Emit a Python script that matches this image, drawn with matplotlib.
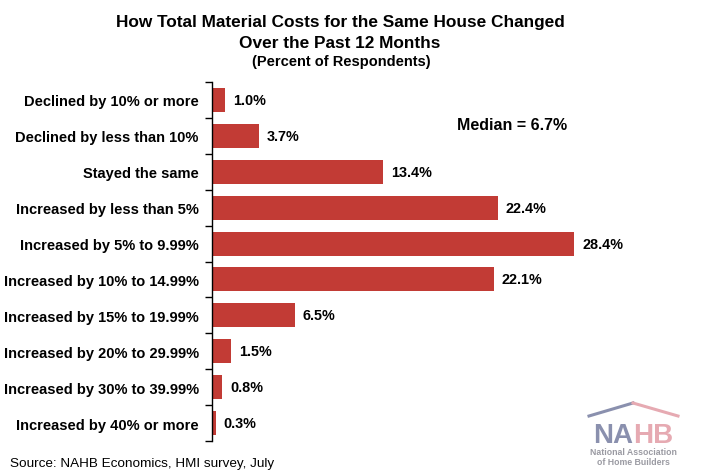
import matplotlib
matplotlib.use("Agg")
import matplotlib.pyplot as plt
from matplotlib.lines import Line2D
import numpy as np

categories = [
    "Declined by 10% or more",
    "Declined by less than 10%",
    "Stayed the same",
    "Increased by less than 5%",
    "Increased by 5% to 9.99%",
    "Increased by 10% to 14.99%",
    "Increased by 15% to 19.99%",
    "Increased by 20% to 29.99%",
    "Increased by 30% to 39.99%",
    "Increased by 40% or more",
]
values = [1.0, 3.7, 13.4, 22.4, 28.4, 22.1, 6.5, 1.5, 0.8, 0.3]
value_labels = ["1.0%", "3.7%", "13.4%", "22.4%", "28.4%", "22.1%", "6.5%", "1.5%", "0.8%", "0.3%"]
title_lines = ["How Total Material Costs for the Same House Changed", "Over the Past 12 Months"]
subtitle = "(Percent of Respondents)"
median_text = "Median = 6.7%"
source_text = "Source: NAHB Economics, HMI survey, July"

plt.rcParams['font.family'] = ['Liberation Sans', 'DejaVu Sans']

W, H = 711, 477
fig = plt.figure(figsize=(W / 100, H / 100), dpi=100)
fig.patch.set_facecolor("white")

ax_left, ax_right = 212 / W, (212 + 12.75 * 35) / W
ax_top, ax_bot = 1 - 83 / H, 1 - 442 / H
ax = fig.add_axes([ax_left, ax_bot, ax_right - ax_left, ax_top - ax_bot])

n = len(categories)
y = np.arange(n)
bar_color = "#C23B35"
ax.barh(y, values, height=0.67, color=bar_color, zorder=2)
ax.set_xlim(0, 35)
ax.set_ylim(n - 0.5, -0.5)

for yi, v, lab in zip(y, values, value_labels):
    ax.text(v + 0.62, yi, lab, va="center", ha="left", fontsize=10.4, fontweight="bold", color="black")

ax.set_yticks(y)
ax.set_yticklabels(categories, fontsize=10.5, fontweight="bold")
ax.tick_params(axis="y", which="major", length=0, pad=9.5)
ax.set_yticks(np.arange(-0.5, n, 1.0), minor=True)
ax.tick_params(axis="y", which="minor", length=5, width=1, direction="out", color="black")
ax.set_xticks([])
for s in ["top", "right", "bottom"]:
    ax.spines[s].set_visible(False)
ax.spines["left"].set_color("black")
ax.spines["left"].set_linewidth(1)

# Titles
fig.text(340 / W, 1 - 22 / H, title_lines[0], ha="center", va="center", fontsize=12.4, fontweight="bold")
fig.text(340 / W, 1 - 43 / H, title_lines[1], ha="center", va="center", fontsize=12.4, fontweight="bold")
fig.text(341 / W, 1 - 62 / H, subtitle, ha="center", va="center", fontsize=10.5, fontweight="bold")

fig.text(512 / W, 1 - 125 / H, median_text, ha="center", va="center", fontsize=11.5, fontweight="bold")
fig.text(10 / W, 1 - 464 / H, source_text, ha="left", va="center", fontsize=9.7, color="black")

# NAHB logo approximation
blue = "#8A90AE"
pink = "#E6AAB2"
fig.add_artist(Line2D([589 / W, 633 / W], [1 - 417 / H, 1 - 404 / H], color=blue, lw=2.2))
fig.add_artist(Line2D([633 / W, 678 / W], [1 - 404 / H, 1 - 417 / H], color=pink, lw=2.2))
fig.text(633 / W, 1 - 436 / H, "NA", ha="right", va="center", fontsize=20, fontweight="bold", color=blue)
fig.text(633 / W, 1 - 436 / H, "HB", ha="left", va="center", fontsize=20, fontweight="bold", color=pink)
fig.text(633 / W, 1 - 453 / H, "National Association", ha="center", va="center", fontsize=6.3, fontweight="bold", color="#9A9AA2")
fig.text(633 / W, 1 - 463 / H, "of Home Builders", ha="center", va="center", fontsize=6.3, fontweight="bold", color="#9A9AA2")

fig.savefig("out.png", dpi=100, facecolor="white")
